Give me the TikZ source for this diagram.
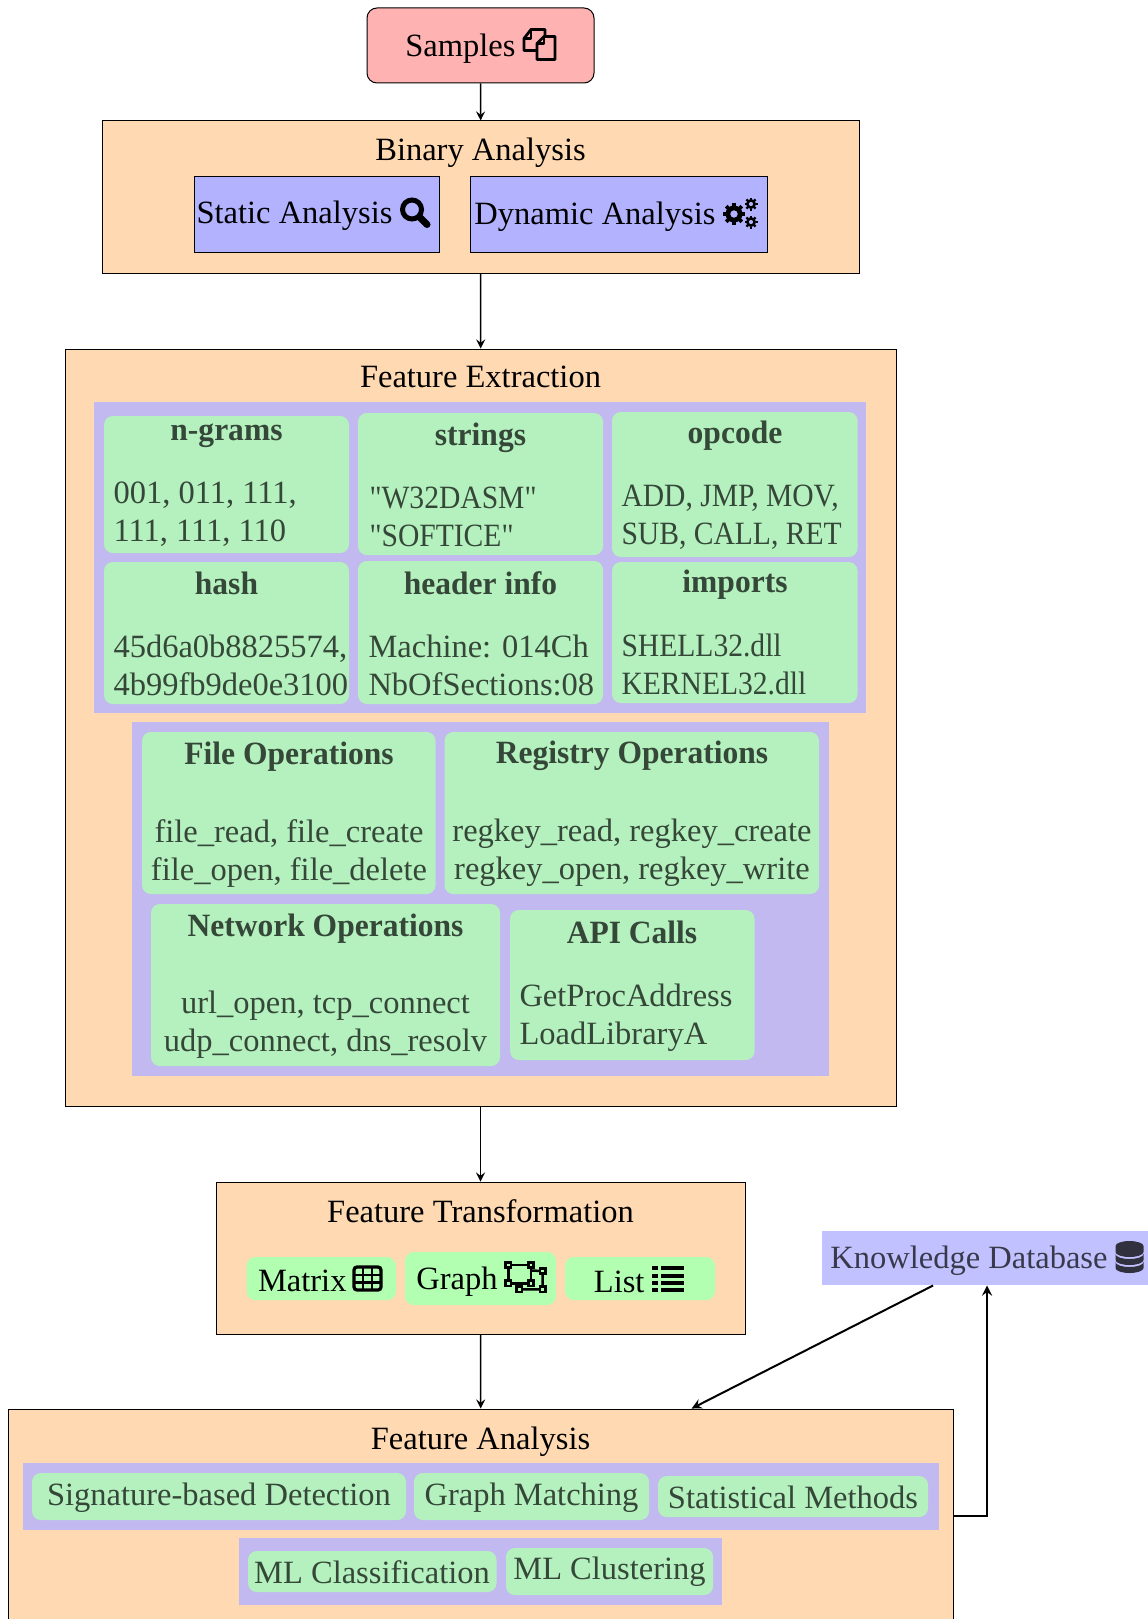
\documentclass[tikz,border=0pt]{standalone}
\usepackage{fontspec}
\setmainfont{Liberation Serif}[BoldFeatures={FakeStretch=0.97}]
\newfontfamily\narrowfont{Liberation Serif}[FakeStretch=0.91]
\usetikzlibrary{fit}
\newcommand{\mainsize}{\fontsize{13}{15.2}\selectfont}
\newcommand{\gearicon}[3]{%
  \fill[even odd rule] (#1,#2) circle (#3) (#1,#2) circle ({#3*0.45});
  \foreach \a in {0,45,...,315} {
    \fill[shift={(#1,#2)}, rotate=\a] ({#3*0.9},{-#3*0.22}) rectangle ({#3*1.3},{#3*0.22});
  }
}
\tikzset{
  box/.style={rectangle, inner sep=0pt},
  stagebox/.style={box, draw=black, line width=0.4pt, fill=orange!30},
  toolbox/.style={box, draw=black, line width=0.4pt, fill=blue!30},
  groupbox/.style={box, fill=blue!30, opacity=0.8},
  featbox/.style={box, rounded corners=3.5pt, fill=green!30, opacity=0.8},
  kindbox/.style={box, rounded corners=3.5pt, fill=green!30},
  boxtext/.style={inner sep=0pt, font=\mainsize, align=center},
  dimtext/.style={boxtext, text opacity=0.7},
  headtext/.style={dimtext, font=\mainsize\bfseries},
  bodytext/.style={dimtext, align=left, anchor=west},
  narrowtext/.style={bodytext, font=\mainsize\narrowfont},
  flow/.style={->, >=stealth, line width=0.6pt},
  copyicon/.pic={
    \draw[line width=1.1pt, line join=round] (-3,6) -- (-16,6) -- (-16,-6) -- (-9,-15) -- (5,-15) -- (5,-9);
    \draw[line width=1.1pt, line join=round] (-9,-15) -- (-9,-6) -- (-16,-6);
    \draw[line width=1.1pt, line join=round] (-3,-1) -- (4,-8) -- (15,-8) -- (15,15) -- (-3,15) -- cycle;
    \draw[line width=1.1pt, line join=round] (4,-8) -- (4,-1) -- (-3,-1);
  },
  searchicon/.pic={
    \draw[line width=2pt] (-3,-3) circle (9.5);
    \draw[line width=2.8pt, line cap=round] (5,5) -- (12,12);
  },
  gearsicon/.pic={
    \gearicon{-7}{2}{8.5}
    \gearicon{10}{-8}{5}
    \gearicon{10}{10}{5}
  },
  tableicon/.pic={
    \draw[line width=1.3pt, rounded corners=1.2pt] (-13.5,-11.5) rectangle (13.5,11.5);
    \draw[line width=0.9pt] (-4.5,-11.5) -- (-4.5,11.5) (4.5,-11.5) -- (4.5,11.5) (-13.5,-3.5) -- (13.5,-3.5) (-13.5,4) -- (13.5,4);
  },
  polygonicon/.pic={
    \draw[line width=1pt] (-16.7,-12.5) -- (6,-12.5) -- (6,5.8) -- (-16.7,5.8) -- cycle;
    \draw[line width=1pt] (6,-7) -- (17.7,-6.5) -- (17.7,11.8) -- (-5.7,11.8) -- (-5.7,5.8);
    \foreach \hx/\hy in {-16.7/-12.5, 6/-12.5, -16.7/5.8, 6/5.8, 17.7/-6.5, 17.7/11.8, -5.7/11.8} {
      \draw[line width=1pt, fill=green!30] (\hx-2.6,\hy-2.6) rectangle (\hx+2.6,\hy+2.6);
    }
  },
  listicon/.pic={
    \foreach \ly in {-12.5,-5,2,9} {
      \fill (-16,\ly) rectangle (-10,\ly+4);
      \fill (-7,\ly) rectangle (16,\ly+4);
    }
  },
  dbicon/.pic={
    \fill (-14,-11) arc (180:360:14 and 5) -- (14,-5) arc (0:180:14 and 5) -- cycle;
    \fill (-14,-3) arc (180:0:14 and 5) -- (14,3) arc (0:180:14 and 5) -- cycle;
    \fill (-14,5) arc (180:0:14 and 5) -- (14,11) arc (0:180:14 and 5) -- cycle;
  }
}
\begin{document}
\begin{tikzpicture}[x=0.4pt,y=-0.4pt]
\useasboundingbox (0,0) rectangle (1147,1619);
% top
\node[box, draw=black, line width=0.4pt, fill=red!30, rounded corners=4pt, fit={(367,8)(594,83)}] (samples) {};
\node[boxtext, anchor=east] (samplestext) at (516,49) {Samples};
\pic at (540,44.5) {copyicon};
\node[stagebox, fit={(102.5,121)(859,273)}] (binary) {};
\node[boxtext] (binarytext) at (480.5,153) {Binary Analysis};
\node[toolbox, fit={(194,177)(439,252)}] (static) {};
\node[boxtext, anchor=east] (statictext) at (393,216) {Static Analysis};
\pic at (415,212.5) {searchicon};
\node[toolbox, fit={(470,177)(767,252)}] (dynamic) {};
\node[boxtext, anchor=east] (dynamictext) at (716,217) {Dynamic Analysis};
\pic at (741,212) {gearsicon};
% extraction
\node[stagebox, fit={(65,349)(896,1106)}] (extraction) {};
\node[boxtext] (extractiontext) at (480.5,377) {Feature Extraction};
\node[groupbox, fit={(94,402)(866,713)}] (staticgroup) {};
\node[featbox, fit={(104,416)(349,553)}] (ngrams) {};
\node[featbox, fit={(358,413)(603,555)}] (strings) {};
\node[featbox, fit={(612,412)(857.5,557)}] (opcode) {};
\node[featbox, fit={(104,562)(349,704)}] (hash) {};
\node[featbox, fit={(358,561)(603,704)}] (header) {};
\node[featbox, fit={(612,562)(857.5,703)}] (imports) {};
\node[headtext] at (226.5,436) {n-grams};
\node[headtext] at (480.5,438) {strings};
\node[headtext] at (735,436) {opcode};
\node[headtext] at (226.5,583) {hash};
\node[headtext] at (480.5,583) {header info};
\node[headtext] at (735,585) {imports};
\node[bodytext] at (113,514) {001, 011, 111,\\111, 111, 110};
\node[narrowtext] at (369,517) {"W32DASM"\\"SOFTICE"};
\node[narrowtext] at (621,517) {ADD, JMP, MOV,\\SUB, CALL, RET};
\node[bodytext] at (113,665) {45d6a0b8825574,\\4b99fb9de0e3100};
\node[bodytext] at (368,665) {Machine: 014Ch\\NbOfSections:08};
\node[narrowtext] at (621,664) {SHELL32.dll\\KERNEL32.dll};
\node[groupbox, fit={(132,722)(829,1076)}] (dynamicgroup) {};
\node[featbox, fit={(142,732)(435.5,894)}] (fileops) {};
\node[featbox, fit={(444.5,732)(819,894)}] (regops) {};
\node[featbox, fit={(151,904)(500,1066)}] (netops) {};
\node[featbox, fit={(510,910)(754.5,1060)}] (apicalls) {};
\node[headtext] at (289,757) {File Operations};
\node[headtext] at (632,756) {Registry Operations};
\node[headtext] at (325.5,929) {Network Operations};
\node[headtext] at (632,932) {API Calls};
\node[dimtext] at (289,853.5) {file\_read, file\_create\\file\_open, file\_delete};
\node[dimtext] at (632,853) {regkey\_read, regkey\_create\\regkey\_open, regkey\_write};
\node[dimtext] at (325.5,1025) {url\_open, tcp\_connect\\udp\_connect, dns\_resolv};
\node[bodytext] at (519,1018) {GetProcAddress\\LoadLibraryA};
% transformation
\node[stagebox, fit={(216,1182)(745,1334)}] (transform) {};
\node[boxtext] (transformtext) at (480.5,1211) {Feature Transformation};
\node[kindbox, fit={(246.5,1257)(396,1300)}] (matrix) {};
\node[kindbox, fit={(405,1252)(556,1305)}] (graph) {};
\node[kindbox, fit={(565,1257)(715,1300)}] (list) {};
\node[boxtext, anchor=east] at (347,1281) {Matrix};
\pic at (367.5,1278.5) {tableicon};
\node[boxtext, anchor=east] at (498,1282) {Graph};
\pic at (525,1277.5) {polygonicon};
\node[boxtext, anchor=east] at (645,1282) {List};
\pic at (668,1278.5) {listicon};
% knowledge
\node[box, fill=blue!30, opacity=0.8, fit={(822,1231)(1152,1285)}] (knowledge) {};
\node[dimtext, anchor=east] at (1108,1261) {Knowledge Database};
\pic[opacity=0.75] at (1129.5,1257) {dbicon};
% analysis
\node[stagebox, fit={(8,1409)(953.5,1623)}] (analysis) {};
\node[boxtext] (analysistext) at (480.5,1442) {Feature Analysis};
\node[groupbox, fit={(23,1463)(938.5,1530)}] (matchgroup) {};
\node[featbox, fit={(32,1473)(406,1520)}] (signature) {};
\node[featbox, fit={(414,1473)(649,1520)}] (matching) {};
\node[featbox, fit={(658,1476)(928,1517)}] (statistical) {};
\node[dimtext] at (219,1498) {Signature-based Detection};
\node[dimtext] at (531.5,1498) {Graph Matching};
\node[dimtext] at (793,1497) {Statistical Methods};
\node[groupbox, fit={(239,1538)(722,1605)}] (mlgroup) {};
\node[featbox, fit={(248,1551)(496.5,1592)}] (classification) {};
\node[featbox, fit={(506,1548)(713,1595)}] (clustering) {};
\node[dimtext] at (372,1572) {ML Classification};
\node[dimtext] at (609.5,1572) {ML Clustering};
% connectors
\draw[flow] (samples) -- (binary);
\draw[flow] (binary) -- (extraction);
\draw[flow] (extraction) -- (transform);
\draw[flow] (transform) -- (analysis);
\draw[flow, line width=0.8pt] (knowledge) -- (analysis);
\draw[flow, line width=0.8pt] (analysis.east) -| (knowledge.south);
\end{tikzpicture}
\end{document}
